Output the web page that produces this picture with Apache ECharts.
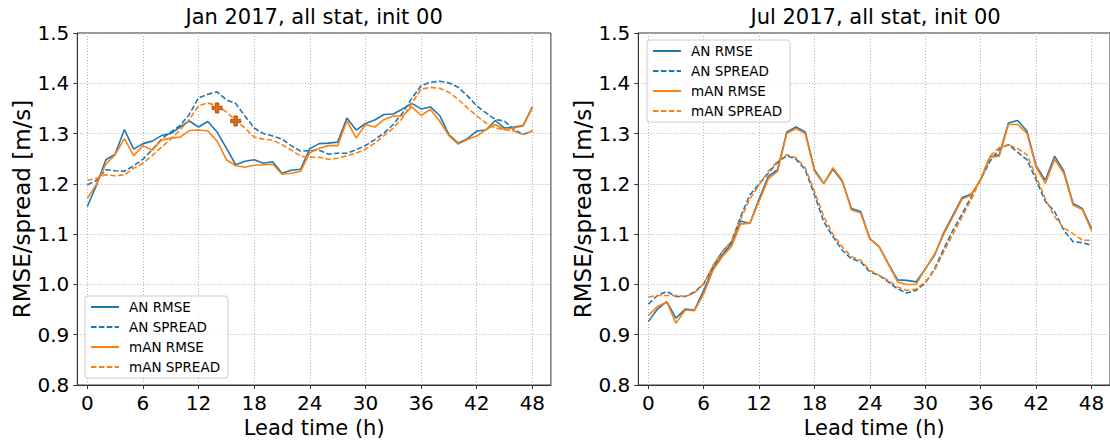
<!DOCTYPE html>
<html><head><meta charset="utf-8">
<script src="https://cdn.jsdelivr.net/npm/echarts@6/dist/echarts.min.js"></script>
<style>html,body{margin:0;padding:0;background:#fff}#c{width:1110px;height:444px}</style>
</head><body><div id="c"></div>
<script>
const leadHours = [0,1,2,3,4,5,6,7,8,9,10,11,12,13,14,15,16,17,18,19,20,21,22,23,24,25,26,27,28,29,30,31,32,33,34,35,36,37,38,39,40,41,42,43,44,45,46,47,48];
const xTicks = [0,6,12,18,24,30,36,42,48];
const seriesNames = ['AN RMSE','AN SPREAD','mAN RMSE','mAN SPREAD'];
const panelTitles = ['Jan 2017, all stat, init 00','Jul 2017, all stat, init 00'];
const xAxisTitle = 'Lead time (h)';
const yAxisTitle = 'RMSE/spread [m/s]';

// Jan 2017
const janAnRmse = [1.155,1.198,1.248,1.259,1.308,1.269,1.280,1.285,1.296,1.300,1.313,1.325,1.313,1.324,1.303,1.271,1.238,1.245,1.248,1.241,1.244,1.221,1.227,1.229,1.270,1.280,1.281,1.283,1.331,1.307,1.320,1.327,1.338,1.339,1.349,1.360,1.349,1.353,1.336,1.298,1.281,1.290,1.305,1.307,1.326,1.311,1.313,1.316,1.353];
const janAnSpread = [1.198,1.207,1.228,1.226,1.225,1.236,1.249,1.268,1.289,1.303,1.316,1.338,1.371,1.378,1.383,1.367,1.360,1.335,1.311,1.300,1.295,1.289,1.276,1.265,1.266,1.267,1.259,1.261,1.261,1.268,1.276,1.288,1.301,1.318,1.341,1.370,1.395,1.402,1.404,1.401,1.392,1.375,1.355,1.341,1.328,1.325,1.308,1.298,1.306];
const janMAnRmse = [1.171,1.200,1.239,1.258,1.290,1.256,1.276,1.267,1.287,1.291,1.293,1.306,1.307,1.305,1.285,1.248,1.236,1.233,1.237,1.238,1.239,1.219,1.221,1.225,1.262,1.271,1.276,1.276,1.325,1.291,1.318,1.313,1.328,1.335,1.335,1.353,1.336,1.348,1.325,1.296,1.279,1.288,1.295,1.308,1.318,1.308,1.311,1.315,1.351];
const janMAnSpread = [1.207,1.211,1.218,1.216,1.218,1.231,1.241,1.256,1.273,1.289,1.307,1.328,1.355,1.361,1.355,1.343,1.326,1.311,1.293,1.289,1.287,1.278,1.267,1.255,1.253,1.253,1.249,1.251,1.256,1.261,1.269,1.281,1.296,1.311,1.331,1.360,1.388,1.392,1.390,1.382,1.368,1.351,1.335,1.321,1.311,1.308,1.305,1.298,1.305];
const janMarkerHours = [14,16];
const janMarkerValues = [1.351,1.325];

// Jul 2017
const julAnRmse = [0.926,0.951,0.966,0.933,0.951,0.949,0.988,1.031,1.058,1.081,1.126,1.121,1.170,1.215,1.228,1.303,1.313,1.303,1.228,1.201,1.229,1.205,1.151,1.145,1.091,1.075,1.041,1.009,1.008,1.005,1.031,1.058,1.103,1.138,1.173,1.180,1.208,1.253,1.258,1.321,1.326,1.305,1.236,1.207,1.255,1.225,1.161,1.151,1.111];
const julAnSpread = [0.961,0.978,0.986,0.976,0.976,0.985,1.001,1.035,1.065,1.085,1.135,1.178,1.200,1.221,1.243,1.256,1.249,1.228,1.178,1.125,1.095,1.068,1.051,1.045,1.025,1.018,1.005,0.991,0.983,0.988,1.003,1.031,1.071,1.108,1.141,1.175,1.209,1.245,1.269,1.278,1.263,1.248,1.208,1.165,1.145,1.108,1.085,1.083,1.078];
const julMAnRmse = [0.938,0.956,0.965,0.923,0.949,0.948,0.981,1.028,1.055,1.075,1.120,1.122,1.165,1.210,1.225,1.300,1.310,1.300,1.225,1.200,1.232,1.207,1.148,1.142,1.090,1.075,1.040,1.005,1.000,1.000,1.031,1.060,1.100,1.135,1.170,1.178,1.210,1.253,1.255,1.318,1.318,1.301,1.233,1.201,1.249,1.221,1.158,1.149,1.107];
const julMAnSpread = [0.975,0.978,0.978,0.978,0.976,0.983,1.001,1.038,1.065,1.085,1.130,1.170,1.198,1.225,1.245,1.258,1.252,1.232,1.185,1.135,1.100,1.075,1.055,1.048,1.028,1.018,1.008,0.995,0.988,0.991,1.005,1.028,1.065,1.100,1.135,1.170,1.210,1.255,1.272,1.278,1.270,1.258,1.215,1.170,1.135,1.112,1.101,1.088,1.088];

const FONT = 'DejaVu Sans';
const BLUE = '#1f77b4', ORANGE = '#ff7f0e';
const DASH = [5.5, 2.4];
const gridBoxes = [
  {left: 77.3, top: 33, width: 473.6, height: 352},
  {left: 638.3, top: 33, width: 474.6, height: 352}
];
const panels = [
  [janAnRmse, janAnSpread, janMAnRmse, janMAnSpread],
  [julAnRmse, julAnSpread, julMAnRmse, julMAnSpread]
];
const styles = [
  {color: BLUE, type: 'solid'},
  {color: BLUE, type: DASH},
  {color: ORANGE, type: 'solid'},
  {color: ORANGE, type: DASH}
];

function xAxisFor(i) {
  return {
    type: 'value', gridIndex: i, min: -1.08, max: 50,
    name: xAxisTitle, nameLocation: 'middle', nameGap: 31,
    nameTextStyle: {fontFamily: FONT, fontSize: 21, color: '#000'},
    axisLine: {show: true, onZero: false, lineStyle: {color: '#333', width: 1}},
    axisTick: {show: true, customValues: xTicks, length: 4, lineStyle: {color: '#333', width: 1}},
    axisLabel: {customValues: xTicks, fontFamily: FONT, fontSize: 20, color: '#000', margin: 8},
    splitLine: {show: true, lineStyle: {color: '#b0b0b0', type: [1, 2], width: 1}}
  };
}
function yAxisFor(i) {
  return {
    type: 'value', gridIndex: i, min: 0.8, max: 1.5, interval: 0.1,
    name: yAxisTitle, nameLocation: 'middle', nameGap: 41, nameRotate: 90,
    nameTextStyle: {fontFamily: FONT, fontSize: 23, color: '#000'},
    axisLine: {show: true, onZero: false, lineStyle: {color: '#333', width: 1}},
    axisTick: {show: true, length: 4, lineStyle: {color: '#333', width: 1}},
    axisLabel: {fontFamily: FONT, fontSize: 20, color: '#000', margin: 8,
      formatter: v => v.toFixed(1)},
    splitLine: {show: true, lineStyle: {color: '#b0b0b0', type: [1, 2], width: 1}}
  };
}

const series = [];
panels.forEach((arrs, p) => {
  arrs.forEach((arr, k) => {
    series.push({
      type: 'line', name: seriesNames[k], xAxisIndex: p, yAxisIndex: p,
      data: leadHours.map((h, j) => [h, arr[j]]),
      symbol: 'none', showSymbol: false, animation: false, z: 2 + k,
      lineStyle: {color: styles[k].color, width: 1.6, type: styles[k].type},
      itemStyle: {color: styles[k].color}
    });
  });
});
series.push({
  type: 'scatter', name: 'markers', xAxisIndex: 0, yAxisIndex: 0, z: 10,
  data: janMarkerHours.map((h, j) => [h, janMarkerValues[j]]),
  symbol: 'path://M1,0H2V1H3V2H2V3H1V2H0V1H1Z', symbolSize: 10,
  itemStyle: {color: '#e06c12', borderColor: '#b5530b', borderWidth: 1, opacity: 1},
  animation: false
});

function legendFor(left, top) {
  return {
    data: seriesNames, orient: 'vertical', left: left, top: top,
    itemWidth: 28, itemHeight: 14, itemGap: 6, padding: [4, 8, 4, 5],
    textStyle: {fontFamily: FONT, fontSize: 13.5, color: '#000', padding: [0, 0, 0, 5]},
    backgroundColor: 'rgba(255,255,255,0.8)', borderColor: '#cccccc',
    borderWidth: 1, borderRadius: 3, itemStyle: {opacity: 0}, selectedMode: false
  };
}

const titleGraphics = panelTitles.map((t, i) => ({
  type: 'text', x: gridBoxes[i].left + gridBoxes[i].width / 2, y: 6,
  style: {text: t, font: '21px "DejaVu Sans"', fill: '#000',
    align: 'center', verticalAlign: 'top', textAlign: 'center', textVerticalAlign: 'top'}
}));

const chart = echarts.init(document.getElementById('c'), null, {renderer: 'svg'});
chart.setOption({
  animation: false,
  backgroundColor: '#fff',
  grid: gridBoxes.map(g => Object.assign({show: true, borderColor: '#333', borderWidth: 1, backgroundColor: 'transparent', containLabel: false}, g)),
  xAxis: [xAxisFor(0), xAxisFor(1)],
  yAxis: [yAxisFor(0), yAxisFor(1)],
  legend: [legendFor(85, 296), legendFor(647, 40)],
  graphic: titleGraphics,
  series: series
});
</script>
</body></html>
